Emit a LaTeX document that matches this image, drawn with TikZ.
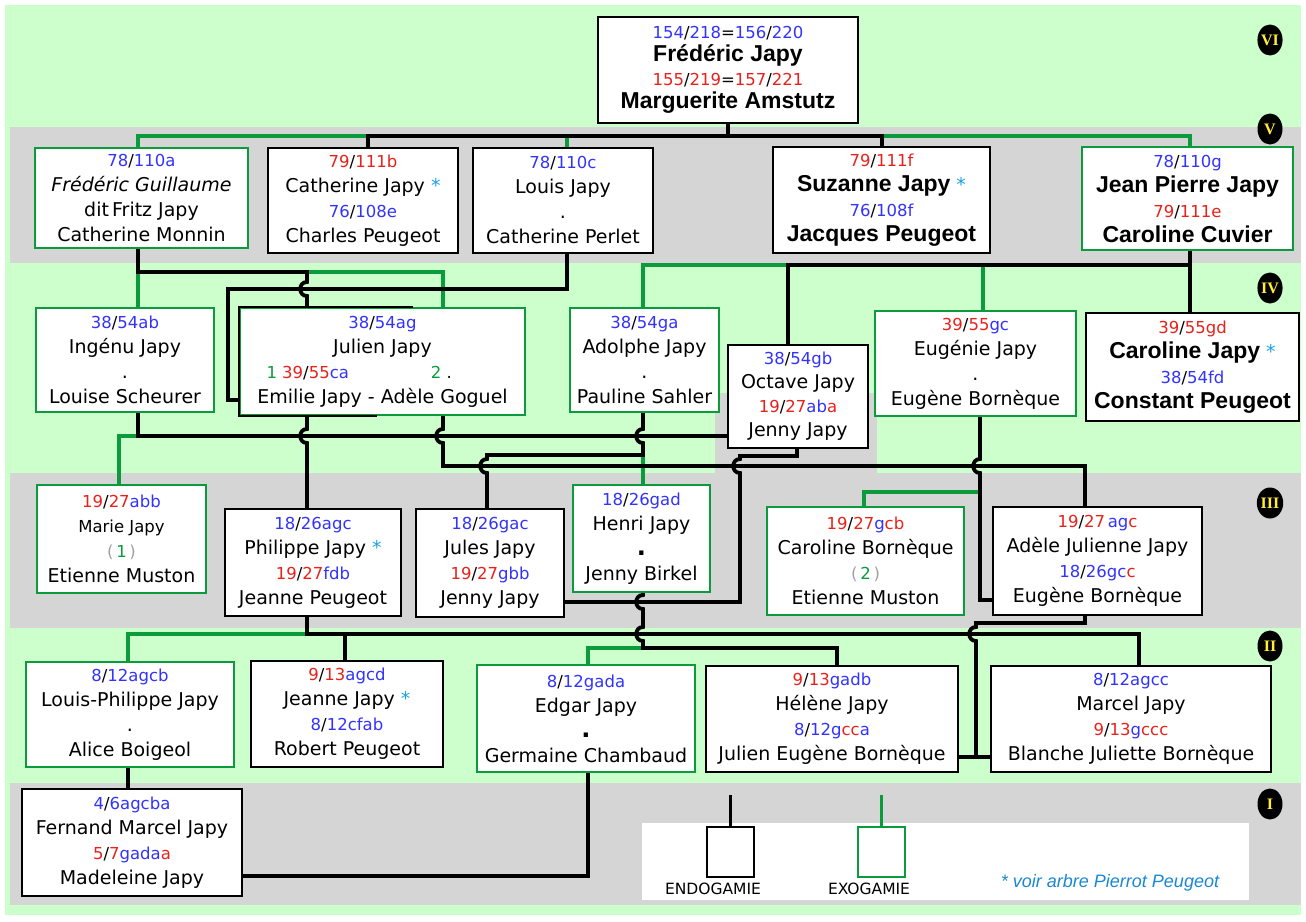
\documentclass[tikz,border=0pt]{standalone}
\usepackage{fontspec}
\setmainfont{DejaVu Sans}
\newfontfamily\libsans{Liberation Sans}
\newfontfamily\libserif{Liberation Serif}
\usetikzlibrary{shapes.geometric}
\pgfdeclarelayer{bg}
\pgfdeclarelayer{lines}
\pgfsetlayers{bg,lines,main}
\definecolor{bgg}{HTML}{CCFFCC}
\definecolor{bgr}{HTML}{D5D5D5}
\definecolor{lgreen}{HTML}{0B9A3C}
\definecolor{nblue}{HTML}{3333FF}
\definecolor{nred}{HTML}{E8221B}
\definecolor{acyan}{HTML}{1AA0E6}
\definecolor{lblue}{HTML}{1A88D4}
\definecolor{pgray}{HTML}{A0A0A0}
\definecolor{badgey}{HTML}{FFEE33}
\newcommand\normf{\fontsize{19}{25}\selectfont}
\newcommand\codef{\fontsize{16.5}{25}\selectfont}
\newcommand\numb[1]{\textcolor{nblue}{#1}}
\newcommand\numr[1]{\textcolor{nred}{#1}}
\newcommand\numg[1]{\textcolor{lgreen}{#1}}
\newcommand\bname[1]{{\libsans\bfseries\fontsize{23}{25}\selectfont #1}}
\newcommand\astx{\ \textcolor{acyan}{*}}
\newcommand\bigdot{{\fontsize{24}{25}\selectfont\textbf{.}}}
\tikzset{
  box/.style={draw=black, line width=1.6pt, fill=white, inner sep=0pt, align=center, font=\normf},
  gbox/.style={box, draw=lgreen},
  bbox/.style={box, line width=2.2pt},
  bl/.style={line width=3.8pt, black},
  gl/.style={line width=3.8pt, lgreen},
  badge/.style={ellipse, fill=black, minimum width=25pt, minimum height=31pt, inner sep=0pt, text=badgey, font=\libserif\bfseries\fontsize{16}{16}\selectfont},
  legtext/.style={inner sep=0pt, font=\fontsize{15.5}{16}\selectfont}
}
\begin{document}
\begin{tikzpicture}[x=1pt,y=-1pt]
\useasboundingbox (0,0) rectangle (1306,921);
\begin{pgfonlayer}{bg}
\fill[white] (0,0) rectangle (1306,921);
\fill[bgg] (5,5) rectangle (1301,915);
\fill[bgr] (10,127) rectangle (1301,263);
\fill[bgr] (10,473) rectangle (1301,628);
\fill[bgr] (10,783) rectangle (1301,905);
\fill[bgr] (715,393) rectangle (877,473);
\fill[white] (642,823) rectangle (1249,900);
\end{pgfonlayer}

% generation VI
\node[bbox, line width=2.6pt, minimum width=260pt, minimum height=106pt, font=\fontsize{19}{23.5}\selectfont] (F) at (728,70)
 {{\codef\numb{154}/\numb{218}=\numb{156}/\numb{220}}\\ \bname{Frédéric Japy}\\ {\codef\numr{155}/\numr{219}=\numr{157}/\numr{221}}\\ \bname{Marguerite Amstutz}};
% generation V
\node[gbox, minimum width=213pt, minimum height=100pt] (A) at (141.5,198)
 {{\codef\numb{78}/\numb{110a}}\\ \textit{Frédéric Guillaume}\\ dit\,Fritz Japy\\ Catherine Monnin};
\node[box, minimum width=190pt, minimum height=105pt] (B) at (363,200.5)
 {{\codef\numr{79}/\numr{111b}}\\ Catherine Japy\astx\\ {\codef\numb{76}/\numb{108e}}\\ Charles Peugeot};
\node[box, minimum width=180pt, minimum height=105pt] (C) at (563,200.5)
 {{\codef\numb{78}/\numb{110c}}\\ Louis Japy\\ .\\ Catherine Perlet};
\node[bbox, minimum width=217pt, minimum height=106pt] (D) at (881.5,200)
 {{\codef\numr{79}/\numr{111f}}\\ \bname{Suzanne Japy}\astx\\ {\codef\numb{76}/\numb{108f}}\\ \bname{Jacques Peugeot}};
\node[gbox, minimum width=211pt, minimum height=103pt] (E) at (1187.5,198.5)
 {{\codef\numb{78}/\numb{110g}}\\ \bname{Jean Pierre Japy}\\ {\codef\numr{79}/\numr{111e}}\\ \bname{Caroline Cuvier}};
% generation IV
\node[gbox, minimum width=178pt, minimum height=104pt] (G) at (125,360)
 {{\codef\numb{38}/\numb{54ab}}\\ Ingénu Japy\\ .\\ Louise Scheurer};
\node[gbox, minimum width=285pt, minimum height=107pt] (H) at (382.5,361.5)
 {{\codef\numb{38}/\numb{54ag}}\\ Julien Japy\\ \makebox[260pt][l]{\codef\hspace{14pt}\numg{1} \numr{39}/\numr{55}\numb{ca}\hspace{82pt}\numg{2} .}\\ Emilie Japy - Adèle Goguel};
\draw[line width=1.6pt] (413,0 |- H.north) -- (H.north west) -- (H.south west) -- (377,0 |- H.south);
\node[gbox, minimum width=149pt, minimum height=104pt] (I) at (644.5,360)
 {{\codef\numb{38}/\numb{54ga}}\\ Adolphe Japy\\ .\\ Pauline Sahler};
\node[box, minimum width=140pt, minimum height=103pt, font=\fontsize{19}{24}\selectfont] (J) at (798,396.5)
 {{\codef\numb{38}/\numb{54gb}}\\ Octave Japy\\ {\codef\numr{19}/\numr{27}\numb{ab}\numr{a}}\\ Jenny Japy};
\node[gbox, minimum width=201pt, minimum height=105pt] (K) at (975.5,363.5)
 {{\codef\numr{39}/\numr{55}\numb{gc}}\\ Eugénie Japy\\ .\\ Eugène Bornèque};
\node[bbox, minimum width=213pt, minimum height=108pt] (L) at (1192.5,367)
 {{\codef\numr{39}/\numr{55gd}}\\ \bname{Caroline Japy}\astx\\ {\codef\numb{38}/\numb{54fd}}\\ \bname{Constant Peugeot}};
% generation III
\node[gbox, minimum width=169pt, minimum height=108pt] (M) at (121.5,539)
 {{\codef\numr{19}/\numr{27}\numb{abb}}\\ {\codef Marie Japy}\\ {\codef\textcolor{pgray}{(}\,\numg{1}\,\textcolor{pgray}{)}}\\ Etienne Muston};
\node[box, minimum width=176pt, minimum height=107pt] (N) at (313,562.5)
 {{\codef\numb{18}/\numb{26agc}}\\ Philippe Japy\astx\\ {\codef\numr{19}/\numr{27}\numb{fdb}}\\ Jeanne Peugeot};
\node[box, minimum width=148pt, minimum height=108pt] (O) at (490,563)
 {{\codef\numb{18}/\numb{26gac}}\\ Jules Japy\\ {\codef\numr{19}/\numr{27}\numb{gbb}}\\ Jenny Japy};
\node[gbox, minimum width=137pt, minimum height=107pt] (P) at (641.5,538.5)
 {{\codef\numb{18}/\numb{26gad}}\\ Henri Japy\\ \bigdot\\ Jenny Birkel};
\node[gbox, minimum width=197pt, minimum height=108pt] (Q) at (865.5,561)
 {{\codef\numr{19}/\numr{27}\numb{g}\numr{cb}}\\ Caroline Bornèque\\ {\codef\textcolor{pgray}{(}\,\numg{2}\,\textcolor{pgray}{)}}\\ Etienne Muston};
\node[box, minimum width=209pt, minimum height=108pt] (R) at (1097.5,561)
 {{\codef\numr{19}/\numr{27}\,\numb{ag}\numr{c}}\\ Adèle Julienne Japy\\ {\codef\numb{18}/\numb{26gc}\numr{c}}\\ Eugène Bornèque};
% generation II
\node[gbox, minimum width=208pt, minimum height=105pt] (S) at (130,714.5)
 {{\codef\numb{8}/\numb{12agcb}}\\ Louis-Philippe Japy\\ .\\ Alice Boigeol};
\node[box, minimum width=192pt, minimum height=106pt] (T) at (347,714)
 {{\codef\numr{9}/\numr{13}\numb{agcd}}\\ Jeanne Japy\astx\\ {\codef\numb{8}/\numb{12cfab}}\\ Robert Peugeot};
\node[gbox, minimum width=218pt, minimum height=107pt] (U) at (586,718.5)
 {{\codef\numb{8}/\numb{12gada}}\\ Edgar Japy\\ \bigdot\\ Germaine Chambaud};
\node[box, minimum width=252pt, minimum height=106pt] (V) at (832,719)
 {{\codef\numr{9}/\numr{13}\numb{gadb}}\\ Hélène Japy\\ {\codef\numb{8}/\numb{12g}\numr{cc}\numb{a}}\\ Julien Eugène Bornèque};
\node[box, minimum width=280pt, minimum height=106pt] (W) at (1131,719)
 {{\codef\numb{8}/\numb{12agcc}}\\ Marcel Japy\\ {\codef\numr{9}/\numr{13}\numb{g}\numr{ccc}}\\ Blanche Juliette Bornèque};
% generation I
\node[box, minimum width=220pt, minimum height=107pt] (X) at (132,842.5)
 {{\codef\numb{4}/\numb{6agcba}}\\ Fernand Marcel Japy\\ {\codef\numr{5}/\numr{7}\numb{gada}\numr{a}}\\ Madeleine Japy};

% legend
\node[box, line width=1.4pt, minimum width=47pt, minimum height=50pt] (endo) at (730.5,852) {};
\node[gbox, line width=1.4pt, minimum width=47pt, minimum height=50pt] (exo) at (881.5,852) {};
\node[legtext] (endol) at (713,889) {ENDOGAMIE};
\node[legtext] (exol) at (869,889) {EXOGAMIE};
\node[inner sep=0pt, text=lblue, font=\libsans\itshape\fontsize{18}{18}\selectfont] (voir) at (1110,883) {* voir arbre Pierrot Peugeot};
\coordinate (endotop) at (730.5,795);
\coordinate (exotop) at (881.5,795);

% badges
\node[badge] (r6) at (1270,40) {VI};
\node[badge] (r5) at (1270,129) {V};
\node[badge] (r4) at (1270,288) {IV};
\node[badge] (r3) at (1270,503) {III};
\node[badge] (r2) at (1270,646) {II};
\node[badge] (r1) at (1270,804) {I};

\begin{pgfonlayer}{lines}
% green connectors
\draw[gl] (138,0 |- A.north) -- (138,136) -- (368,136);
\draw[gl] (1190,0 |- E.north) -- (1190,136) -- (882,136);
\draw[gl] (567,136) -- (567,0 |- C.north);
\draw[gl] (138,272) -- (138,0 |- G.north);
\draw[gl] (307,272) -- (443,272) -- (443,0 |- H.north);
\draw[gl] (643,0 |- I.north) -- (643,265) -- (788,265);
\draw[gl] (983,265) -- (983,0 |- K.north);
\draw[gl] (138,436) -- (119,436) -- (119,0 |- M.north);
\draw[gl] (643,455) -- (643,0 |- P.north);
\draw[gl] (980,492) -- (864,492) -- (864,0 |- Q.north);
\draw[gl] (307,634) -- (128,634) -- (128,0 |- S.north);
\draw[gl] (643,648) -- (588,648) -- (588,0 |- U.north);
\draw[gl] (exotop) -- (exo.north);
% black connectors
\draw[bl] (F.south) -- (728,136);
\draw[bl] (368,0 |- B.north) -- (368,136) -- (882,136) -- (882,0 |- D.north);
\draw[bl] (138,0 |- A.south) -- (138,272) -- (307,272) -- (307,282) .. controls (298,282) and (298,296) .. (307,296) -- (307,0 |- H.north);
\draw[bl] (567,0 |- C.south) -- (567,289) -- (228,289) -- (228,400) -- (H.west |- 0,400);
\draw[bl] (788,0 |- J.north) -- (788,265) -- (1190,265);
\draw[bl] (1190,0 |- E.south) -- (1190,0 |- L.north);
\draw[bl] (138,0 |- G.south) -- (138,436) -- (J.west |- 0,436);
\draw[bl] (307,0 |- H.south) -- (307,429) .. controls (298,429) and (298,443) .. (307,443) -- (307,0 |- N.north);
\draw[bl] (443,0 |- H.south) -- (443,429) .. controls (434,429) and (434,443) .. (443,443) -- (443,466) -- (1085,466) -- (1085,0 |- R.north);
\draw[bl] (643,0 |- I.south) -- (643,429) .. controls (634,429) and (634,443) .. (643,443) -- (643,455) -- (487,455) -- (487,459) .. controls (478,459) and (478,473) .. (487,473) -- (487,0 |- O.north);
\draw[bl] (797,0 |- J.south) -- (797,456) -- (740,456) -- (740,459) .. controls (731,459) and (731,473) .. (740,473) -- (740,602) -- (O.east |- 0,602);
\draw[bl] (980,0 |- K.south) -- (980,459) .. controls (971,459) and (971,473) .. (980,473) -- (980,600) -- (R.west |- 0,600);
\draw[bl] (307,0 |- N.south) -- (307,634) -- (1139,634) -- (1139,0 |- W.north);
\draw[bl] (345,634) -- (345,0 |- T.north);
\draw[bl] (643,0 |- P.south) -- (643,595) .. controls (634,595) and (634,609) .. (643,609) -- (643,627) .. controls (634,627) and (634,641) .. (643,641) -- (643,648) -- (837,648) -- (837,0 |- V.north);
\draw[bl] (1085,0 |- R.south) -- (1085,623) -- (976,623) -- (976,627) .. controls (967,627) and (967,641) .. (976,641) -- (976,757) -- (V.east |- 0,757);
\draw[bl] (976,757) -- (W.west |- 0,757);
\draw[bl] (588,0 |- U.south) -- (588,876) -- (X.east |- 0,876);
\draw[bl] (128,0 |- S.south) -- (128,0 |- X.north);
\draw[bl] (endotop) -- (endo.north);
\end{pgfonlayer}
\end{tikzpicture}
\end{document}
